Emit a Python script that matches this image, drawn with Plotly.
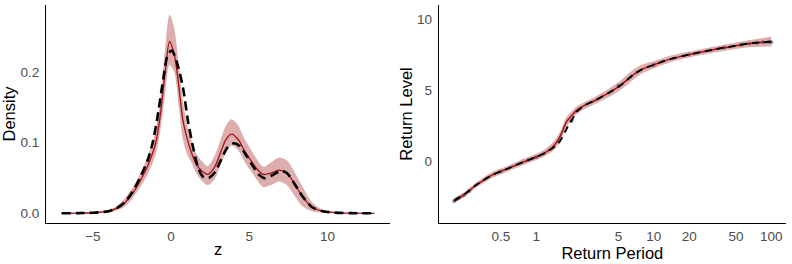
import plotly.graph_objects as go

# ---------------- Left panel: density ----------------
z_fit = [-7, -6, -5, -4, -3.5, -3, -2.5, -2, -1.5, -1, -0.7, -0.4, -0.1, 0.2, 0.5, 0.75,
         1.0, 1.3, 1.6, 2.0, 2.35, 2.8, 3.2, 3.5, 3.87, 4.3, 4.7, 5.0, 5.44, 5.9, 6.4,
         6.9, 7.4, 7.8, 8.4, 9.0, 9.7, 10.5, 11.5, 13]
dens_fit = [0, 0.0002, 0.0008, 0.003, 0.007, 0.014, 0.027, 0.045, 0.067, 0.098, 0.137,
            0.195, 0.243, 0.225, 0.179, 0.132, 0.108, 0.086, 0.070, 0.059, 0.055, 0.066,
            0.088, 0.104, 0.112, 0.104, 0.088, 0.078, 0.064, 0.055, 0.057, 0.061, 0.057,
            0.045, 0.024, 0.009, 0.003, 0.001, 0.0002, 0]
dens_lo = [0, 0, 0.0003, 0.001, 0.004, 0.009, 0.020, 0.036, 0.055, 0.082, 0.115, 0.165,
           0.210, 0.200, 0.150, 0.105, 0.085, 0.072, 0.057, 0.045, 0.040, 0.049, 0.070,
           0.086, 0.096, 0.089, 0.073, 0.063, 0.049, 0.037, 0.040, 0.045, 0.040, 0.028,
           0.010, 0.003, 0.001, 0, 0, 0]
dens_hi = [0, 0.0004, 0.0015, 0.005, 0.010, 0.020, 0.035, 0.055, 0.080, 0.115, 0.160,
           0.228, 0.281, 0.262, 0.208, 0.160, 0.128, 0.102, 0.085, 0.073, 0.067, 0.082,
           0.106, 0.124, 0.133, 0.124, 0.105, 0.094, 0.078, 0.066, 0.072, 0.079, 0.075,
           0.062, 0.038, 0.016, 0.005, 0.002, 0.0004, 0]

z_true = [-7, -6, -5, -4, -3.5, -3, -2.5, -2, -1.5, -1.2, -0.9, -0.5, -0.2, 0.05, 0.35,
          0.75, 1.07, 1.4, 1.71, 2.03, 2.4, 2.8, 3.2, 3.6, 4.0, 4.4, 4.8, 5.2, 5.6, 6.0,
          6.5, 7.0, 7.4, 7.8, 8.4, 9.0, 9.7, 10.5, 11.5, 13]
dens_true = [0, 0.0002, 0.0008, 0.003, 0.007, 0.015, 0.029, 0.050, 0.075, 0.098, 0.132,
             0.190, 0.225, 0.230, 0.215, 0.179, 0.132, 0.094, 0.066, 0.052, 0.050, 0.058,
             0.076, 0.093, 0.099, 0.095, 0.082, 0.068, 0.055, 0.0495, 0.054, 0.060, 0.057,
             0.045, 0.024, 0.009, 0.003, 0.001, 0.0002, 0]

# ---------------- Right panel: return levels ----------------
T_fit = [0.2, 0.25, 0.3, 0.35, 0.42, 0.5, 0.6, 0.78, 1.0, 1.22, 1.4, 1.55, 1.68, 1.8,
         1.95, 2.18, 2.6, 3.1, 4.2, 5.2, 6.7, 8.0, 10, 14, 20, 32, 50, 62, 80, 100]
rl_fit = [-2.80, -2.30, -1.75, -1.38, -0.98, -0.72, -0.45, -0.05, 0.30, 0.66, 1.05, 1.55,
          2.15, 2.75, 3.10, 3.55, 3.95, 4.25, 4.85, 5.35, 6.10, 6.50, 6.80, 7.22, 7.52,
          7.87, 8.15, 8.28, 8.38, 8.45]
rl_lo = [-2.95, -2.47, -1.93, -1.57, -1.18, -0.92, -0.65, -0.27, 0.08, 0.42, 0.75, 1.20,
         1.80, 2.40, 2.80, 3.28, 3.70, 4.00, 4.55, 5.02, 5.75, 6.20, 6.55, 7.00, 7.32,
         7.65, 7.92, 8.02, 8.08, 8.10]
rl_hi = [-2.62, -2.12, -1.57, -1.18, -0.78, -0.52, -0.25, 0.17, 0.52, 0.92, 1.38, 1.90,
         2.50, 3.10, 3.42, 3.83, 4.20, 4.50, 5.15, 5.68, 6.45, 6.82, 7.05, 7.45, 7.72,
         8.07, 8.38, 8.52, 8.65, 8.78]

T_true = [0.2, 0.25, 0.3, 0.35, 0.42, 0.5, 0.6, 0.78, 1.0, 1.22, 1.35, 1.47, 1.6, 1.78,
          1.9, 2.04, 2.18, 2.4, 2.6, 3.1, 4.2, 5.2, 6.7, 8.0, 10, 14, 20, 32, 50, 62, 80, 100]
rl_true = [-2.78, -2.28, -1.75, -1.38, -0.98, -0.72, -0.45, -0.05, 0.30, 0.62, 0.88, 1.10,
           1.45, 2.15, 2.62, 3.00, 3.42, 3.75, 3.95, 4.25, 4.85, 5.35, 6.10, 6.50, 6.80,
           7.22, 7.52, 7.87, 8.15, 8.28, 8.38, 8.42]

T_emp = [0.2, 0.21, 0.22, 0.24, 0.27, 0.5, 1.0, 2.0, 5.0, 10, 20, 40, 55, 65, 75, 85, 95, 100]
rl_emp = [-2.80, -2.68, -2.58, -2.40, -2.10, -0.72, 0.30, 2.85, 5.30, 6.80, 7.52, 8.02,
          8.22, 8.30, 8.36, 8.40, 8.42, 8.40]

# ---------------- Styling ----------------
RED = "#A50F15"
RIBBON = "rgba(165,42,42,0.38)"
FONT = "Liberation Sans, Arial, sans-serif"
TICKCOL = "#4D4D4D"

fig = go.Figure()

# left ribbon
fig.add_trace(go.Scatter(x=z_fit, y=dens_lo, mode="lines", line=dict(width=0, shape="spline", smoothing=0.8),
                         hoverinfo="skip", showlegend=False, xaxis="x", yaxis="y"))
fig.add_trace(go.Scatter(x=z_fit, y=dens_hi, mode="lines", line=dict(width=0, shape="spline", smoothing=0.8),
                         fill="tonexty", fillcolor=RIBBON, hoverinfo="skip", showlegend=False,
                         xaxis="x", yaxis="y"))
fig.add_trace(go.Scatter(x=z_fit, y=dens_fit, mode="lines",
                         line=dict(color=RED, width=1.3, shape="spline", smoothing=0.8),
                         showlegend=False, xaxis="x", yaxis="y"))
fig.add_trace(go.Scatter(x=z_true, y=dens_true, mode="lines",
                         line=dict(color="black", width=2.6, dash="9px,5px", shape="spline", smoothing=0.8),
                         showlegend=False, xaxis="x", yaxis="y"))

# right ribbon
fig.add_trace(go.Scatter(x=T_fit, y=rl_lo, mode="lines", line=dict(width=0, shape="spline", smoothing=0.8),
                         hoverinfo="skip", showlegend=False, xaxis="x2", yaxis="y2"))
fig.add_trace(go.Scatter(x=T_fit, y=rl_hi, mode="lines", line=dict(width=0, shape="spline", smoothing=0.8),
                         fill="tonexty", fillcolor=RIBBON, hoverinfo="skip", showlegend=False,
                         xaxis="x2", yaxis="y2"))
fig.add_trace(go.Scatter(x=T_emp, y=rl_emp, mode="markers",
                         marker=dict(color="rgba(110,110,110,0.8)", size=4),
                         showlegend=False, xaxis="x2", yaxis="y2"))
fig.add_trace(go.Scatter(x=T_fit, y=rl_fit, mode="lines",
                         line=dict(color=RED, width=1.5, shape="spline", smoothing=0.8),
                         showlegend=False, xaxis="x2", yaxis="y2"))
fig.add_trace(go.Scatter(x=T_true, y=rl_true, mode="lines",
                         line=dict(color="black", width=2.0, dash="7px,5px", shape="spline", smoothing=0.8),
                         showlegend=False, xaxis="x2", yaxis="y2"))

ax_common = dict(showgrid=False, zeroline=False, showline=True, linecolor="black", linewidth=1.1,
                 ticks="outside", tickcolor="rgba(0,0,0,0)", automargin=False,
                 tickfont=dict(family=FONT, size=13.5, color=TICKCOL))

W, H = 792, 264
fig.update_layout(
    width=W, height=H,
    margin=dict(l=0, r=0, t=0, b=0),
    paper_bgcolor="white", plot_bgcolor="white",
    font=dict(family=FONT, color="black"),
    xaxis=dict(domain=[46 / W, 390 / W], range=[-8, 14], tickvals=[-5, 0, 5, 10], ticklen=1,
               title=dict(text="z", font=dict(family=FONT, size=16.5), standoff=0),
               anchor="y", **ax_common),
    yaxis=dict(domain=[1 - 223 / H, 1 - 5 / H], range=[-0.0137, 0.2946], ticklen=3,
               tickvals=[0, 0.1, 0.2], ticktext=["0.0", "0.1", "0.2"],
               title=dict(text="Density", font=dict(family=FONT, size=16.5), standoff=0),
               anchor="x", **ax_common),
    xaxis2=dict(domain=[438.7 / W, 786 / W], type="log", range=[-0.83, 2.125], ticklen=1,
                tickvals=[0.5, 1, 5, 10, 20, 50, 100],
                ticktext=["0.5", "1", "5", "10", "20", "50", "100"],
                title=dict(text="Return Period", font=dict(family=FONT, size=16.5), standoff=0),
                anchor="y2", **ax_common),
    yaxis2=dict(domain=[1 - 223 / H, 1 - 5 / H], range=[-4.36, 11.02], ticklen=3,
                tickvals=[0, 5, 10],
                title=dict(text="Return Level", font=dict(family=FONT, size=16.5), standoff=0),
                anchor="x2", **ax_common),
)

fig.write_html("out.html", config={"displayModeBar": False},
               post_script="document.body.style.margin='0px';document.body.style.overflow='hidden';")
